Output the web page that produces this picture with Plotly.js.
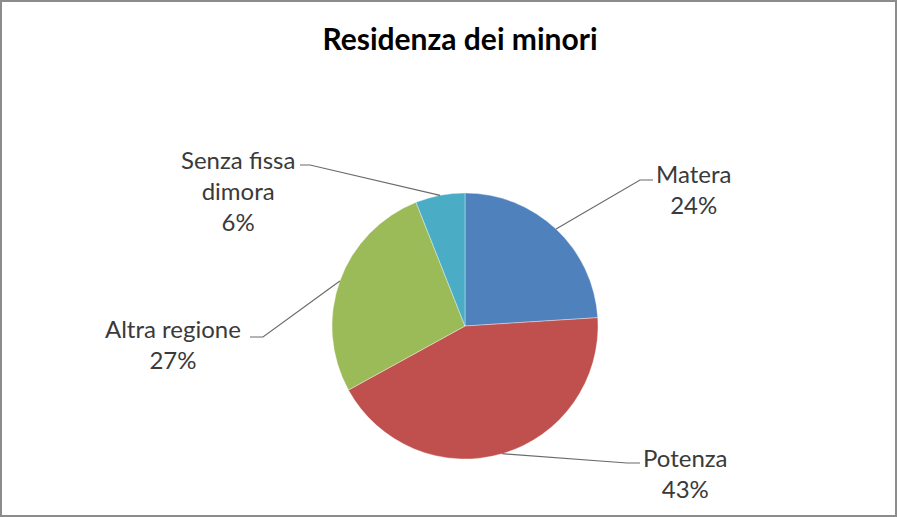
<!DOCTYPE html>
<html>
<head>
<meta charset="utf-8">
<script src="https://cdn.plot.ly/plotly-3.0.1.min.js"></script>
<style>
html,body{margin:0;padding:0;background:#fff;}
#chart{width:897px;height:517px;}
</style>
</head>
<body>
<div id="chart"></div>
<script>
// Data
const categories = ["Matera", "Potenza", "Altra regione", "Senza fissa dimora"];
const values = [24, 43, 27, 6];
const percentLabels = ["24%", "43%", "27%", "6%"];
const labelTexts = ["Matera", "Potenza", "Altra regione", "Senza fissa<br>dimora"];
const colors = ["#4F81BD", "#C0504D", "#9BBB59", "#4BACC6"];

// Layout constants (pixels)
const W = 897, H = 517;
const CX = 465, CY = 326, R = 133;
// label centre positions and leader-line elbow/end points (styling)
const labelPos = [
  {x: 693, y: 189, elbow: [640, 180], end: [653, 180]},
  {x: 685, y: 473, elbow: [627, 463], end: [640, 463]},
  {x: 173, y: 344, elbow: [263, 337], end: [250, 337]},
  {x: 238, y: 190, elbow: [310, 165], end: [300, 165]}
];

const px = x => x / W;
const py = y => 1 - y / H;

const total = values.reduce((a, b) => a + b, 0);
let cum = 0;
const shapes = [];
const annotations = [];
values.forEach((v, i) => {
  const mid = (cum + v / 2) / total * 2 * Math.PI;
  cum += v;
  const ex = CX + R * Math.sin(mid);
  const ey = CY - R * Math.cos(mid);
  const L = labelPos[i];
  shapes.push({
    type: 'path', xref: 'paper', yref: 'paper',
    path: `M ${px(ex)} ${py(ey)} L ${px(L.elbow[0])} ${py(L.elbow[1])} L ${px(L.end[0])} ${py(L.end[1])}`,
    line: {color: '#6b6b6b', width: 1.2}
  });
  annotations.push({
    xref: 'paper', yref: 'paper', x: px(L.x), y: py(L.y),
    xanchor: 'center', yanchor: 'middle', showarrow: false, align: 'center',
    text: labelTexts[i] + '<br>' + percentLabels[i],
    font: {family: 'Lato, "Open Sans", sans-serif', size: 24, color: '#3a3a3a'}
  });
});

// frame
shapes.push({type: 'rect', xref: 'paper', yref: 'paper', x0: px(1), x1: px(896), y0: py(516), y1: py(1),
  line: {color: '#8c8c8c', width: 2}});

const trace = {
  type: 'pie',
  labels: categories,
  values: values,
  sort: false,
  direction: 'clockwise',
  rotation: 0,
  textinfo: 'none',
  hoverinfo: 'label+percent',
  marker: {colors: colors, line: {color: 'rgba(255,255,255,0.6)', width: 0.6}},
  domain: {x: [px(CX - R), px(CX + R)], y: [py(CY + R), py(CY - R)]},
  showlegend: false
};

const layout = {
  width: W, height: H,
  margin: {l: 0, r: 0, t: 0, b: 0},
  paper_bgcolor: '#fff',
  title: {
    text: '<b>Residenza dei minori</b>',
    x: px(460), xanchor: 'center', y: py(39), yanchor: 'middle',
    font: {family: 'Lato, "Open Sans", sans-serif', size: 30, color: '#000'}
  },
  shapes: shapes,
  annotations: annotations,
  showlegend: false
};

Plotly.newPlot('chart', [trace], layout, {displayModeBar: false, staticPlot: true});
</script>
</body>
</html>
